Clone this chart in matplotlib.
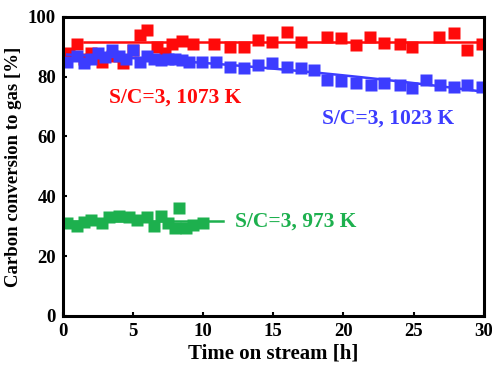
import numpy as np
import matplotlib.pyplot as plt

plt.rcParams['font.family'] = ['Liberation Serif', 'DejaVu Serif']
plt.rcParams['font.weight'] = 'bold'

# S/C=3, 1073 K
t_1073 = [0.4, 1.0, 1.5, 2.0, 2.8, 3.5, 4.3, 5.0, 5.5, 6.0, 6.7, 7.3, 7.8, 8.5, 9.3,
          10.8, 11.9, 12.9, 13.9, 14.9, 16.0, 17.0, 18.8, 19.8, 20.9, 21.9, 22.9,
          24.0, 24.9, 26.8, 27.9, 28.8, 29.9]
c_1073 = [88, 91, 86, 88, 85, 87, 84.5, 89, 94, 95.5, 90, 88, 91, 92, 91,
          91, 90, 90, 92.3, 91.7, 95, 91.7, 93.4, 92.9, 90.6, 93.4, 91.2,
          90.9, 90, 93.4, 94.5, 89, 90.9]

# S/C=3, 1023 K
t_1023 = [0.3, 1.0, 1.5, 2.0, 2.5, 3.0, 3.5, 4.0, 4.5, 5.0, 5.5, 6.0, 6.5, 7.0, 7.5,
          8.0, 8.5, 9.0, 9.9, 10.9, 11.9, 12.9, 13.9, 14.9, 16.0, 17.0, 17.9,
          18.8, 19.8, 20.9, 22.0, 22.9, 24.0, 24.9, 25.9, 26.9, 27.9, 28.8, 29.9]
c_1023 = [85, 87, 84.5, 86, 88, 86.5, 89, 87, 86, 89, 85, 87, 86, 85.5, 86,
          86, 85.5, 85, 85, 85, 83.4, 82.8, 84, 84.5, 83.4, 82.8, 82.3,
          79, 78.4, 77.8, 77.3, 77.8, 77.3, 76.2, 79, 77.3, 76.7, 77.3, 76.4]

# S/C=3, 973 K
t_973 = [0.3, 1.0, 1.5, 2.0, 2.8, 3.3, 4.0, 4.7, 5.3, 6.0, 6.5, 7.0, 7.5, 8.0, 8.3,
         8.8, 9.3, 10.0]
c_973 = [31, 30, 31.5, 32, 31, 33, 33.5, 33, 32, 33, 30, 33.5, 31, 29.5, 36,
         29.5, 30.5, 31]

red = '#FF0A0A'
blue = '#3C3CFF'
green = '#1DB04E'

fig = plt.figure(figsize=(4.92, 3.76), dpi=100)
ax = fig.add_axes([0.128, 0.16, 0.855, 0.795])

ms = 8.5
ax.plot(t_1073, c_1073, 's', color=red, ms=ms, mec='none')
ax.plot(t_1023, c_1023, 's', color=blue, ms=ms, mec='none')
ax.plot(t_973, c_973, 's', color=green, ms=ms, mec='none')

# trend lines
ax.plot([1.5, 30], [np.mean(c_1073) + 1] * 2, color=red, lw=1.8)
p = np.polyfit(t_1023, c_1023, 2)
tt = np.linspace(0.3, 30, 100)
ax.plot(tt, np.polyval(p, tt), color=blue, lw=1.8)
ax.plot([0, 11.4], [np.mean(c_973)] * 2, color=green, lw=1.8)

fs = 15.5
ax.text(8.0, 73, 'S/C=3, 1073 K', color=red, fontsize=fs, ha='center', va='center', fontweight='bold')
ax.text(23.2, 66, 'S/C=3, 1023 K', color=blue, fontsize=fs, ha='center', va='center', fontweight='bold')
ax.text(16.6, 31.5, 'S/C=3, 973 K', color=green, fontsize=fs, ha='center', va='center', fontweight='bold')

ax.set_xlim(0, 30)
ax.set_ylim(0, 100)
ax.set_xticks([0, 5, 10, 15, 20, 25, 30])
ax.set_yticks([0, 20, 40, 60, 80, 100])
ax.tick_params(direction='in', length=3, width=1.5, labelsize=13.5, pad=5)
for s in ax.spines.values():
    s.set_linewidth(2.2)
ax.set_xlabel('Time on stream [h]', fontsize=15, fontweight='bold', labelpad=3)
ax.set_ylabel('Carbon conversion to gas [%]', fontsize=13.5, fontweight='bold', labelpad=4)

fig.savefig('out.png', dpi=100)
